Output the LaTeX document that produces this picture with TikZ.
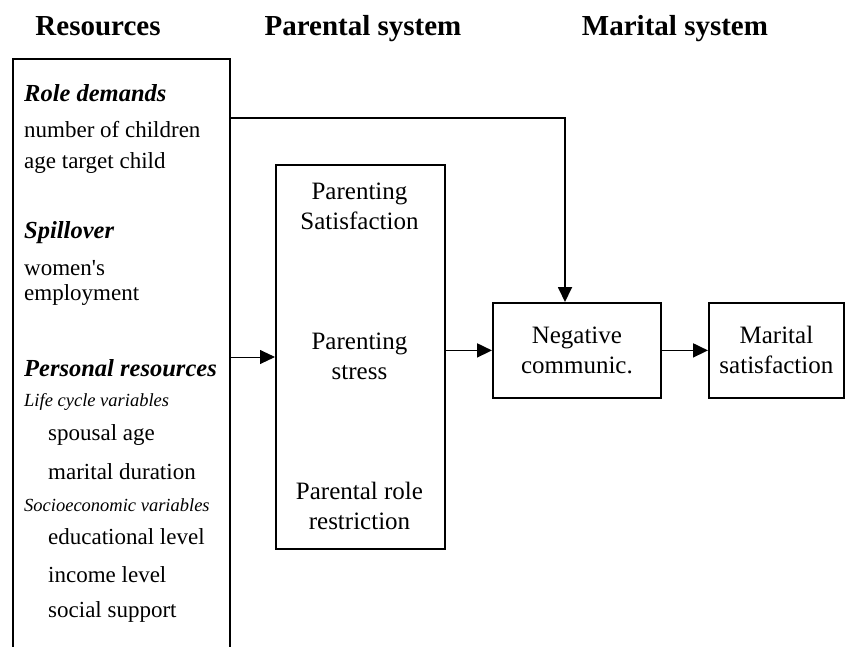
\documentclass[tikz,border=0pt]{standalone}
\usepackage{fontspec}
\setmainfont{Liberation Serif}
\usetikzlibrary{arrows.meta}
\begin{document}
\begin{tikzpicture}[x=1pt,y=-1pt,
  box/.style={draw, line width=1.8pt, inner sep=0pt},
  lbl/.style={anchor=west, inner sep=0pt, font=\fontsize{23}{28}\selectfont},
  bi/.style={anchor=west, inner sep=0pt, font=\fontsize{24.5}{28}\selectfont\bfseries\itshape},
  sub/.style={anchor=west, inner sep=0pt, font=\fontsize{18.5}{24}\selectfont\itshape},
  head/.style={anchor=base, inner sep=0pt, font=\fontsize{29}{32}\selectfont\bfseries},
  ctext/.style={inner sep=0pt, align=center, font=\fontsize{25}{30}\selectfont},
  arr/.style={line width=1.8pt, -{Triangle[length=15pt,width=14pt]}},
  thinarr/.style={line width=0.9pt, -{Triangle[length=15pt,width=14pt]}}]
\useasboundingbox (0,0) rectangle (846,646);
% headers
\node[head] (h1) at (98,35) {Resources};
\node[head] (h2) at (363,35) {Parental system};
\node[head] (h3) at (675,35) {Marital system};
% boxes
\node[box, anchor=north west, minimum width=217pt, minimum height=620pt] (res) at (12,58) {};
\node[box, anchor=north west, minimum width=169pt, minimum height=384pt] (par) at (275,164) {};
\node[box, anchor=north west, minimum width=168pt, minimum height=95pt] (neg) at (492,302) {};
\node[box, anchor=north west, minimum width=135pt, minimum height=95pt] (mar) at (708,302) {};
% left column text
\node[bi] (t1) at (24,93) {Role demands};
\node[lbl] (t2) at (24,130) {number of children};
\node[lbl] (t3) at (24,163) {age target child};
\node[bi] (t4) at (24,233) {Spillover};
\node[lbl] (t5) at (24,268) {women\textquotesingle s};
\node[lbl] (t6) at (24,295) {employment};
\node[bi] (t7) at (24,368) {Personal resources};
\node[sub] (t8) at (24,402) {Life cycle variables};
\node[lbl] (t9) at (48,435) {spousal age};
\node[lbl] (t10) at (48,472) {marital duration};
\node[sub] (t11) at (24,505) {Socioeconomic variables};
\node[lbl] (t12) at (48,537) {educational level};
\node[lbl] (t13) at (48,575) {income level};
\node[lbl] (t14) at (48,612) {social support};
% parental box text
\node[ctext] (p1) at (359.5,206) {Parenting\\Satisfaction};
\node[ctext] (p2) at (359.5,356) {Parenting\\stress};
\node[ctext] (p3) at (359.5,506) {Parental role\\restriction};
% outcome text
\node[ctext] (n1) at (neg.center) {Negative\\communic.};
\node[ctext] (m1) at (mar.center) {Marital\\satisfaction};
% connectors
\coordinate (turn) at (565,118);
\draw[arr] (res.east |- turn) -- (turn) -- (turn |- neg.north);
\draw[thinarr] (res.east |- 0,357) -- (par.west |- 0,357);
\draw[arr] (par.east |- neg.west) -- (neg.west);
\draw[arr] (neg.east) -- (mar.west);
\end{tikzpicture}
\end{document}
